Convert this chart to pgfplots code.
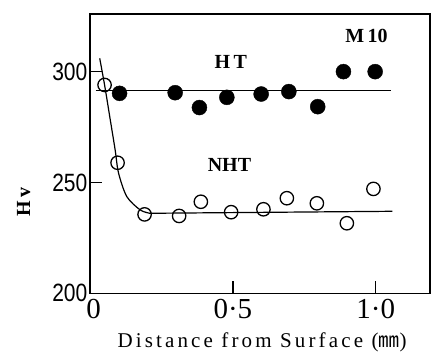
\documentclass[border=0pt]{standalone}
\usepackage{pgfplots}
\pgfplotsset{compat=1.18}
\usepackage{fontspec}
\setmainfont{Liberation Serif}
\setsansfont{Liberation Sans}
\newfontfamily\cjk{Noto Sans CJK JP}
\newfontfamily\spaced{Liberation Serif}[LetterSpace=15]
\begin{document}
\begin{tikzpicture}
\useasboundingbox (-90pt,-60.7pt) rectangle (345pt,293.3pt);
\begin{axis}[
  scale only axis, width=340pt, height=279.3pt,
  xmin=0, xmax=1.19, ymin=200, ymax=326,
  axis line style={line width=1.4pt},
  tick pos=left, tick align=inside, major tick length=12pt,
  tick style={line width=1.3pt, black},
  xtick={0,0.5,1}, xticklabels={\hspace*{7pt}0,0·5,1·0},
  ytick={200,250,300}, yticklabels={200,250,300},
  xticklabel style={font=\fontsize{29}{29}\selectfont, yshift=-2pt},
  yticklabel style={font=\fontsize{25}{25}\sffamily\selectfont, xscale=0.84, inner sep=2pt, xshift=-1pt},
  clip=false,
  xlabel={{\spaced\fontsize{21}{21}\selectfont Distance from Surface ({\cjk ㎜})}},
  xlabel style={at={(axis description cs:0.506,-0.175)}, anchor=center},
]
% HT fitted line
\addplot[black, line width=1.2pt] coordinates {(0.02,291.5) (1.052,291.5)};
% NHT fitted curve
\addplot[black, line width=1.2pt, smooth, tension=0.5] coordinates {
  (0.034,306) (0.051,294) (0.070,279) (0.088,264.7) (0.100,254.2) (0.129,243.6) (0.176,237.6) (0.21,236.1)};
\addplot[black, line width=1.2pt] coordinates {(0.21,236.1) (1.058,237.0)};
% HT data
\addplot[only marks, mark=*, mark size=7.5pt, mark options={fill=black, draw=black}] coordinates {
  (0.1035,290.2) (0.298,290.5) (0.383,283.8) (0.479,288.4) (0.599,289.9)
  (0.696,291.0) (0.797,284.2) (0.887,300.0) (0.998,300.0)};
% NHT data
\addplot[only marks, mark=o, mark size=6.7pt, mark options={fill=white, draw=black, line width=1.3pt}] coordinates {
  (0.051,294.0) (0.0965,258.9) (0.191,235.6) (0.312,234.9) (0.388,241.3) (0.494,236.6)
  (0.607,237.9) (0.689,242.9) (0.794,240.6) (0.899,231.6) (0.992,247.1)};
\node[font=\fontsize{20}{20}\bfseries\selectfont] at (axis cs:0.493,304.5) {H\,T};
\node[font=\fontsize{20}{20}\bfseries\selectfont] at (axis cs:0.488,257.8) {NHT};
\node[font=\fontsize{20}{20}\bfseries\selectfont] at (axis cs:0.968,316.2) {M\,10};
\node[font=\fontsize{20}{20}\bfseries\selectfont, rotate=90] at (axis cs:-0.232,241.2) {H\,v};
\end{axis}
\end{tikzpicture}
\end{document}
